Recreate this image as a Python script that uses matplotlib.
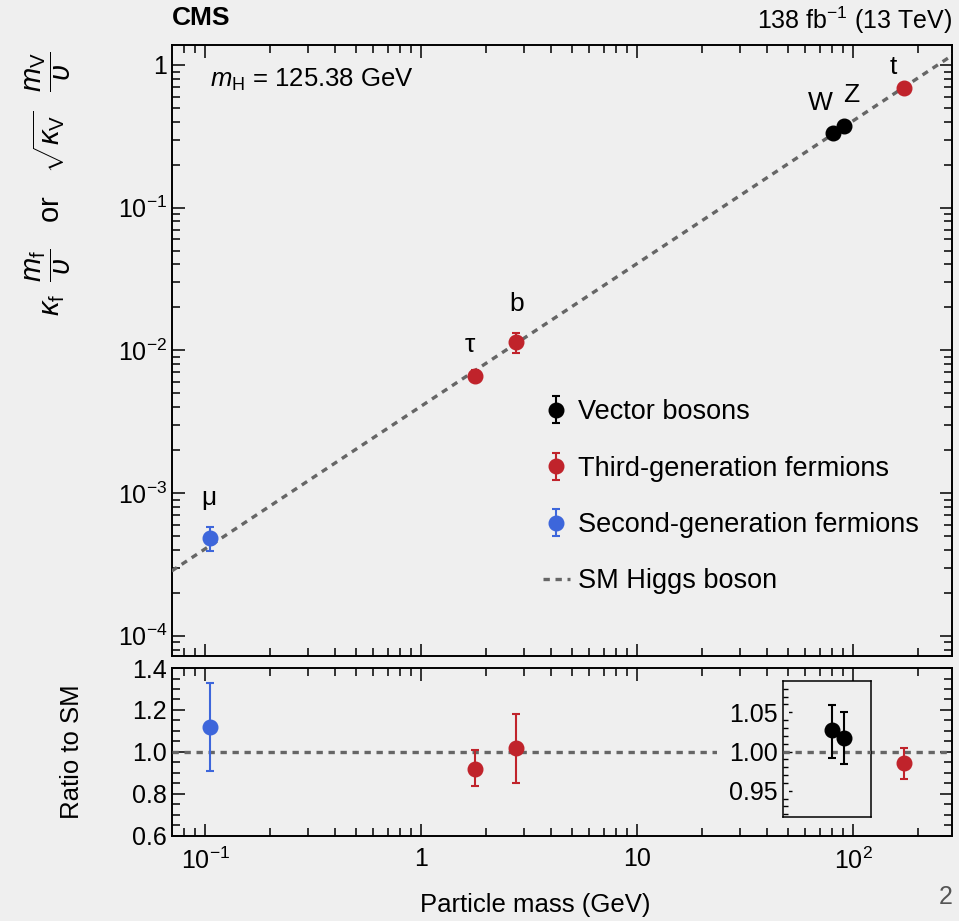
import numpy as np
import matplotlib
matplotlib.use('Agg')
import matplotlib.pyplot as plt
from matplotlib.ticker import FixedLocator, MultipleLocator, FuncFormatter, LogLocator, NullFormatter
from matplotlib.lines import Line2D

plt.rcParams['font.family'] = ['Liberation Sans', 'DejaVu Sans']
plt.rcParams['mathtext.fontset'] = 'custom'
plt.rcParams['mathtext.rm'] = 'Liberation Sans'
plt.rcParams['mathtext.it'] = 'Liberation Sans:italic'
plt.rcParams['mathtext.bf'] = 'Liberation Sans:bold'

bg = '#efefef'
red = '#c0232b'
blue = '#3d66db'
smgray = '#666666'

# particle masses (GeV)
mass_vec = [80.38, 91.19]          # W, Z
mass_3rd = [1.777, 2.76, 172.76]   # tau, b, t
mass_2nd = [0.1057]                # mu

# upper panel: reduced coupling modifiers
y_vec = [0.331, 0.3735]
y_vec_lo = [0.327, 0.368]
y_vec_hi = [0.336, 0.379]
y_3rd = [6.65e-3, 1.15e-2, 0.690]
y_3rd_lo = [6.1e-3, 9.6e-3, 0.677]
y_3rd_hi = [7.3e-3, 1.33e-2, 0.705]
y_2nd = [4.8e-4]
y_2nd_lo = [3.95e-4]
y_2nd_hi = [5.75e-4]

# SM expectation (line end points)
sm_mass = [0.07, 290.0]
sm_y = [2.84e-4, 1.178]

# ratio panel
r_3rd = [0.92, 1.02]        # tau, b
r_3rd_lo = [0.84, 0.85]
r_3rd_hi = [1.01, 1.18]
r_2nd = [1.12]
r_2nd_lo = [0.91]
r_2nd_hi = [1.33]
# zoomed scale (inset): W, Z and t
r_vec = [1.028, 1.017]
r_vec_lo = [0.992, 0.984]
r_vec_hi = [1.059, 1.051]
r_top = [0.985]
r_top_lo = [0.965]
r_top_hi = [1.005]

names = ['\u03bc', '\u03c4', 'b', 'W', 'Z', 't']
name_mass = [0.1057, 1.777, 2.76, 80.38, 91.19, 172.76]
name_y = [4.8e-4, 6.65e-3, 1.15e-2, 0.331, 0.3735, 0.690]
name_off = [(-1, 29), (-4, 22), (0, 27), (-9, 22), (5, 22), (-8, 15)]

xlim = (0.0703, 287)


def err(v, lo, hi):
    v = np.array(v); return [v - np.array(lo), np.array(hi) - v]


fig = plt.figure(figsize=(9.59, 9.21), dpi=100, facecolor=bg)
ax = fig.add_axes([0.1794, 0.2877, 0.8133, 0.6634], facecolor=bg)
axr = fig.add_axes([0.1794, 0.0923, 0.8133, 0.1824], facecolor=bg, sharex=ax)

eb = dict(fmt='o', ms=10.5, capsize=2.8, elinewidth=1.5, capthick=1.5, zorder=4)
h_vec = ax.errorbar(mass_vec, y_vec, yerr=err(y_vec, y_vec_lo, y_vec_hi), color='black', **eb)
h_3rd = ax.errorbar(mass_3rd, y_3rd, yerr=err(y_3rd, y_3rd_lo, y_3rd_hi), color=red, **eb)
h_2nd = ax.errorbar(mass_2nd, y_2nd, yerr=err(y_2nd, y_2nd_lo, y_2nd_hi), color=blue, **eb)
dash = (0, (1.9, 1.7))
h_sm, = ax.plot(sm_mass, sm_y, color=smgray, lw=2.4, ls=dash, zorder=3)

ax.set_xscale('log')
ax.set_yscale('log')
ax.set_xlim(*xlim)
ax.set_ylim(7.2e-5, 1.38)

for n, m, y, off in zip(names, name_mass, name_y, name_off):
    ax.annotate(n, (m, y), xytext=off, textcoords='offset points', ha='center', va='center', fontsize=19)

ax.text(0.049, 0.943, r'$m_\mathrm{H}$ = 125.38 GeV', transform=ax.transAxes, fontsize=18.5, va='center')

leg = ax.legend([h_vec, h_3rd, h_2nd, Line2D([], [], color=smgray, lw=2.4, ls=dash)],
                ['Vector bosons', 'Third-generation fermions', 'Second-generation fermions', 'SM Higgs boson'],
                loc='upper left', bbox_to_anchor=(0.475, 0.42), frameon=False, fontsize=19.5,
                handlelength=1.0, handletextpad=0.3, labelspacing=1.12, borderpad=0, borderaxespad=0)

# ratio panel
axr.errorbar(mass_3rd[:2], r_3rd, yerr=err(r_3rd, r_3rd_lo, r_3rd_hi), color=red, **eb)
axr.errorbar(mass_2nd, r_2nd, yerr=err(r_2nd, r_2nd_lo, r_2nd_hi), color=blue, **eb)
axr.axhline(1.0, color=smgray, lw=2.4, ls=dash, zorder=3)
axr.set_ylim(0.6, 1.4)
axr.yaxis.set_major_locator(FixedLocator([0.6, 0.8, 1.0, 1.2, 1.4]))
axr.yaxis.set_minor_locator(MultipleLocator(0.05))
axr.yaxis.set_major_formatter(FuncFormatter(lambda v, p: '%.1f' % v))


def xfmt(v, p):
    lab = {0.1: r'$10^{-1}$', 1: '1', 10: '10', 100: r'$10^{2}$'}
    for k, s in lab.items():
        if abs(v - k) < 1e-6 * k:
            return s
    return ''


axr.xaxis.set_major_formatter(FuncFormatter(xfmt))
axr.xaxis.set_minor_formatter(NullFormatter())
plt.setp(ax.get_xticklabels(), visible=False)


def yfmt(v, p):
    e = int(round(np.log10(v)))
    return '1' if e == 0 else r'$10^{%d}$' % e


ax.yaxis.set_major_formatter(FuncFormatter(yfmt))
ax.yaxis.set_minor_formatter(NullFormatter())
ax.yaxis.set_minor_locator(LogLocator(base=10, subs=np.arange(2, 10), numticks=20))
ax.xaxis.set_minor_locator(LogLocator(base=10, subs=np.arange(2, 10), numticks=20))

for a in (ax, axr):
    a.tick_params(which='both', direction='in', top=True, right=True, labelsize=18, width=1.1)
    a.tick_params(which='major', length=9)
    a.tick_params(which='minor', length=5.5)
    for s in a.spines.values():
        s.set_linewidth(1.4)
axr.tick_params(axis='x', pad=8)

# inset with zoomed ratio scale
axi = fig.add_axes([0.8165, 0.1129, 0.0917, 0.1477], facecolor=bg, zorder=5)
axi.set_xscale('log')
axi.set_xlim(47.4, 121.2)
axi.set_ylim(0.9165, 1.0899)
axi.axhline(1.0, color=smgray, lw=2.4, ls=dash, zorder=3)
axi.errorbar(mass_vec, r_vec, yerr=err(r_vec, r_vec_lo, r_vec_hi), color='black', **eb)
ct = axi.errorbar(mass_3rd[2:], r_top, yerr=err(r_top, r_top_lo, r_top_hi), color=red, **eb)
for art in ct.get_children():
    art.set_clip_on(False)
axi.yaxis.set_major_locator(FixedLocator([0.95, 1.00, 1.05]))
axi.yaxis.set_minor_locator(MultipleLocator(0.01))
axi.yaxis.set_major_formatter(FuncFormatter(lambda v, p: '%.2f' % v))
axi.tick_params(axis='x', which='both', bottom=False, top=False, labelbottom=False)
axi.tick_params(axis='y', which='both', direction='in', left=True, right=False, labelsize=18, width=1.0, pad=4)
axi.tick_params(axis='y', which='major', length=6.5)
axi.tick_params(axis='y', which='minor', length=3.5)
for s in axi.spines.values():
    s.set_linewidth(1.1)
for lbl in axi.get_yticklabels():
    lbl.set_bbox(dict(boxstyle='square,pad=0.45', fc=bg, ec='none'))

# texts
fig.text(172 / 959, 1 - 18 / 921, 'CMS', fontsize=19, weight='bold', va='center', ha='left')
fig.text(952 / 959, 1 - 20 / 921, r'138 fb$^{-1}$ (13 TeV)', fontsize=18, va='center', ha='right')
fig.text(48 / 959, 1 - 184 / 921,
         r'$\kappa_\mathrm{f}\;\;\dfrac{m_\mathrm{f}}{\upsilon}$   or   $\sqrt{\kappa_\mathrm{V}}\;\;\;\dfrac{m_\mathrm{V}}{\upsilon}$',
         rotation=90, fontsize=21, ha='center', va='center')
fig.text(72 / 959, 1 - 752 / 921, 'Ratio to SM', rotation=90, fontsize=18.5, ha='center', va='center')
fig.text(535 / 959, 1 - 905 / 921, 'Particle mass (GeV)', fontsize=18.5, ha='center', va='center')
fig.text(0.979, 1 - 897 / 921, '2', fontsize=18, color='#555555', ha='left', va='center')

fig.savefig('out.png', dpi=100, facecolor=bg)
